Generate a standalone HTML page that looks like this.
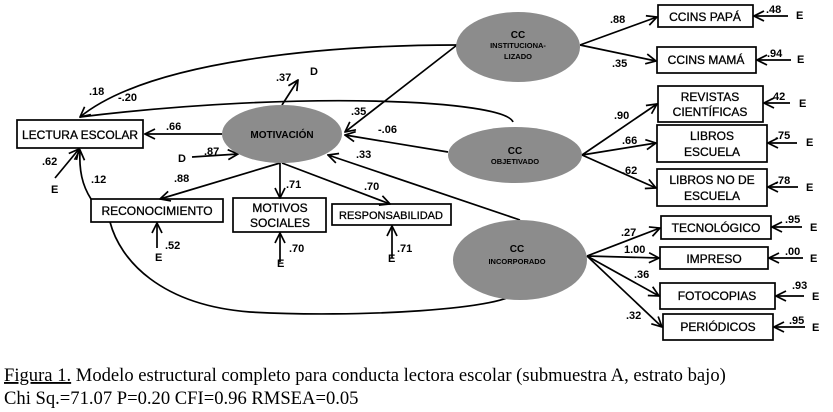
<!DOCTYPE html>
<html><head><meta charset="utf-8"><style>
html,body{margin:0;padding:0;background:#fff;width:833px;height:412px;overflow:hidden}
svg{display:block}
.t{font-family:"Liberation Sans",Arial,sans-serif;font-size:11px;font-weight:bold;fill:#000}
.b{font-family:"Liberation Sans",Arial,sans-serif;font-size:12px;fill:#000;stroke:#000;stroke-width:0.3}
.s{font-family:"Liberation Sans",Arial,sans-serif;font-size:7.5px;font-weight:bold;fill:#000}
.cap{font-family:"Liberation Serif","Times New Roman",serif;font-size:18.6px;fill:#000}
</style></head><body>
<svg width="833" height="412" viewBox="0 0 833 412">
<defs>
<marker id="a" viewBox="0 0 12 12" refX="11" refY="6" markerWidth="12" markerHeight="12" markerUnits="userSpaceOnUse" orient="auto">
<path d="M1,1 L11,6 L1,11" fill="none" stroke="#000" stroke-width="1.7"/></marker>
</defs>
<g fill="none" stroke="#000" stroke-width="1.7">
<rect x="17" y="120" width="126" height="28"/>
<rect x="91" y="199" width="132" height="23"/>
<rect x="233" y="198" width="93" height="34"/>
<rect x="332" y="204" width="119" height="21"/>
<rect x="658" y="5" width="95" height="22"/>
<rect x="657" y="47" width="99" height="26"/>
<rect x="658" y="86" width="105" height="36"/>
<rect x="657" y="125" width="110" height="37"/>
<rect x="657" y="169" width="110" height="37"/>
<rect x="661" y="216" width="110" height="23"/>
<rect x="660" y="247" width="108" height="22"/>
<rect x="660" y="283" width="115" height="26"/>
<rect x="663" y="314" width="110" height="26"/>
<path d="M457,45 C330,45 150,60 80,117" marker-end="url(#a)"/>
<path d="M513,122 C505,100 300,90 80,117" />
<path d="M91,199 C82,185 79,170 80,150" marker-end="url(#a)"/>
<path d="M518,290 C515,310 350,318 250,312 C160,305 120,260 110,222"/>
<path d="M457,45 L345,132" marker-end="url(#a)"/>
<path d="M448,152 L345,135" marker-end="url(#a)"/>
<path d="M520,220 L328,155" marker-end="url(#a)"/>
<path d="M222,134 L145,134" marker-end="url(#a)"/>
<path d="M192,157 L238,154" marker-end="url(#a)"/>
<path d="M282,105 L298,80" marker-end="url(#a)"/>
<path d="M280,163 L160,199" marker-end="url(#a)"/>
<path d="M280,163 L280,198" marker-end="url(#a)"/>
<path d="M282,163 L390,204" marker-end="url(#a)"/>
<path d="M55,178 L79,149" marker-end="url(#a)"/>
<path d="M157,248 L157,223" marker-end="url(#a)"/>
<path d="M280,262 L280,233" marker-end="url(#a)"/>
<path d="M392,258 L392,226" marker-end="url(#a)"/>
<path d="M580,45 L657,17" marker-end="url(#a)"/>
<path d="M580,45 L656,61" marker-end="url(#a)"/>
<path d="M582,155 L657,104" marker-end="url(#a)"/>
<path d="M582,155 L656,143" marker-end="url(#a)"/>
<path d="M582,155 L656,188" marker-end="url(#a)"/>
<path d="M587,256 L660,228" marker-end="url(#a)"/>
<path d="M587,256 L659,258" marker-end="url(#a)"/>
<path d="M587,256 L659,296" marker-end="url(#a)"/>
<path d="M587,256 L662,327" marker-end="url(#a)"/>
<path d="M788,16 L754,16" marker-end="url(#a)"/>
<path d="M791,60 L757,60" marker-end="url(#a)"/>
<path d="M790,103 L764,103" marker-end="url(#a)"/>
<path d="M797,143 L768,143" marker-end="url(#a)"/>
<path d="M798,187 L768,187" marker-end="url(#a)"/>
<path d="M802,227 L772,227" marker-end="url(#a)"/>
<path d="M803,258 L769,258" marker-end="url(#a)"/>
<path d="M804,296 L776,296" marker-end="url(#a)"/>
<path d="M805,327 L774,327" marker-end="url(#a)"/>
</g>
<g fill="#8c8c8c">
<ellipse cx="282" cy="134" rx="60" ry="29"/>
<ellipse cx="518" cy="47" rx="62" ry="35"/>
<ellipse cx="515" cy="155" rx="67" ry="28"/>
<ellipse cx="520" cy="260" rx="67" ry="40"/>
</g>
<text x="282" y="138" class="t" text-anchor="middle" style="font-size:10px">MOTIVACIÓN</text>
<text x="518" y="38" class="s" text-anchor="middle" style="font-size:10px">CC</text>
<text x="518" y="48" class="s" text-anchor="middle">INSTITUCIONA-</text>
<text x="518" y="59" class="s" text-anchor="middle">LIZADO</text>
<text x="515" y="154" class="s" text-anchor="middle" style="font-size:10px">CC</text>
<text x="515" y="164" class="s" text-anchor="middle">OBJETIVADO</text>
<text x="517" y="252" class="s" text-anchor="middle" style="font-size:10px">CC</text>
<text x="517" y="264" class="s" text-anchor="middle">INCORPORADO</text>
<g class="b" text-anchor="middle">
<text x="80" y="139">LECTURA ESCOLAR</text>
<text x="157" y="215">RECONOCIMIENTO</text>
<text x="280" y="212">MOTIVOS</text><text x="280" y="227">SOCIALES</text>
<text x="391" y="219" style="font-size:11px">RESPONSABILIDAD</text>
<text x="705" y="21">CCINS PAPÁ</text>
<text x="706" y="64">CCINS MAMÁ</text>
<text x="710" y="101">REVISTAS</text><text x="710" y="116">CIENTÍFICAS</text>
<text x="712" y="140">LIBROS</text><text x="712" y="156">ESCUELA</text>
<text x="712" y="184">LIBROS NO DE</text><text x="712" y="200">ESCUELA</text>
<text x="716" y="232">TECNOLÓGICO</text>
<text x="714" y="263">IMPRESO</text>
<text x="717" y="300">FOTOCOPIAS</text>
<text x="718" y="331">PERIÓDICOS</text>
</g>
<g class="t">
<text x="89" y="95">.18</text><text x="118" y="101">-.20</text>
<text x="166" y="130">.66</text><text x="276" y="81">.37</text><text x="310" y="75">D</text>
<text x="204" y="155">.87</text><text x="178" y="162">D</text>
<text x="42" y="165">.62</text><text x="51" y="193">E</text>
<text x="91" y="183">.12</text><text x="174" y="182">.88</text>
<text x="286" y="188">.71</text><text x="364" y="190">.70</text>
<text x="351" y="115">.35</text><text x="378" y="133">-.06</text><text x="356" y="158">.33</text>
<text x="165" y="249">.52</text><text x="155" y="261">E</text>
<text x="289" y="252">.70</text><text x="277" y="267">E</text>
<text x="397" y="252">.71</text><text x="388" y="262">E</text>
<text x="610" y="23">.88</text><text x="612" y="67">.35</text>
<text x="614" y="119">.90</text><text x="622" y="144">.66</text><text x="622" y="174">.62</text>
<text x="621" y="236">.27</text><text x="624" y="253">1.00</text><text x="634" y="278">.36</text><text x="626" y="319">.32</text>
<text x="766" y="13">.48</text><text x="767" y="57">.94</text><text x="770" y="100">.42</text>
<text x="775" y="139">.75</text><text x="775" y="184">.78</text><text x="785" y="223">.95</text>
<text x="785" y="255">.00</text><text x="792" y="289">.93</text><text x="789" y="324">.95</text>
<text x="796" y="19">E</text><text x="797" y="63">E</text><text x="799" y="107">E</text>
<text x="806" y="146">E</text><text x="806" y="191">E</text><text x="810" y="231">E</text>
<text x="810" y="262">E</text><text x="812" y="300">E</text><text x="812" y="331">E</text>
</g>
<text x="4" y="381" class="cap"><tspan text-decoration="underline">Figura 1.</tspan> Modelo estructural completo para conducta lectora escolar (submuestra A, estrato bajo)</text>
<text x="4" y="404" class="cap">Chi Sq.=71.07 P=0.20 CFI=0.96 RMSEA=0.05</text>
</svg>
</body></html>
